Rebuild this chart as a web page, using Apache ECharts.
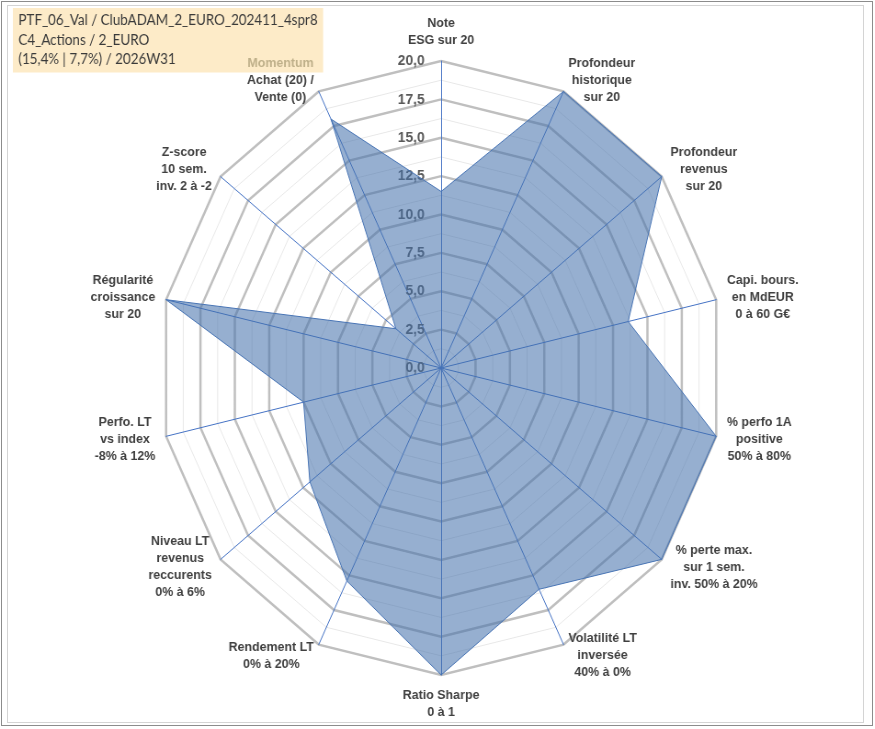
<!DOCTYPE html>
<html>
<head>
<meta charset="utf-8">
<script src="https://cdn.jsdelivr.net/npm/echarts@6/dist/echarts.min.js"></script>
<style>
  html, body { margin: 0; padding: 0; background: #fff; }
  #frame { position: absolute; left: 0; top: 0; width: 875px; height: 729px; overflow: hidden; background: #fff; }
  #outer { position: absolute; left: 1px; top: 1px; width: 872px; height: 725px; border: 1px solid #8c8c8c; box-sizing: border-box; }
  #inner { position: absolute; left: 7px; top: 5px; width: 857px; height: 718px; border: 1px solid #d4d4d4; box-sizing: border-box; }
  #chart { position: absolute; left: 0; top: 0; width: 952px; height: 729px; transform: scaleX(0.919); transform-origin: 0 0; }
</style>
</head>
<body>
<div id="frame">
  <div id="outer"></div>
  <div id="inner"></div>
  <div id="chart"></div>
</div>
<script>
// ---- data (clockwise from top, as in the reference) ----
const titleLines = [
  'PTF_06_Val / ClubADAM_2_EURO_202411_4spr8',
  'C4_Actions / 2_EURO',
  '(15,4% | 7,7%) / 2026W31'
];
const categories = [
  'Note\nESG sur 20',
  'Profondeur\nhistorique\nsur 20',
  'Profondeur\nrevenus\nsur 20',
  'Capi. bours.\nen MdEUR\n0 à 60 G€',
  '% perfo 1A\npositive\n50% à 80%',
  '% perte max.\nsur 1 sem.\ninv. 50% à 20%',
  'Volatilité LT\ninversée\n40% à 0%',
  'Ratio Sharpe\n0 à 1',
  'Rendement LT\n0% à 20%',
  'Niveau LT\nrevenus\nreccurents\n0% à 6%',
  'Perfo. LT\nvs index\n-8% à 12%',
  'Régularité\ncroissance\nsur 20',
  'Z-score\n10 sem.\ninv. 2 à -2',
  'Momentum\nAchat (20) /\nVente (0)'
];
const highlightedFirstLine = 'Momentum';
const values = [11.5, 20, 20, 13.6, 20, 20, 16, 20, 15.4, 11.9, 10, 20, 4.1, 18];
const axisMin = 0;
const axisMax = 20;
const majorStep = 2.5;

// ECharts places radar indicators counter-clockwise: reorder to get clockwise layout
const n = categories.length;
const order = [0];
for (let i = n - 1; i >= 1; i--) order.push(i);

const majorSplits = (axisMax - axisMin) / majorStep;

function richName(name) {
  return name.split('\n').map(function (line) {
    return (line === highlightedFirstLine ? '{m|' : '{c|') + line + '}';
  }).join('\n');
}

const baseFont = 'Liberation Sans, Arial, sans-serif';

const indicatorsMinor = order.map(function (i) {
  return { name: '', min: axisMin, max: axisMax };
});
const indicatorsMajor = order.map(function (i, k) {
  return {
    name: categories[i],
    min: axisMin,
    max: axisMax,
    axisLabel: { show: k === 0 }
  };
});

const center = [480, 368];
const radius = 307;

const chart = echarts.init(document.getElementById('chart'), null, { renderer: 'canvas' });
chart.setOption({
  animation: false,
  backgroundColor: 'transparent',
  title: {
    text: titleLines.join('\n'),
    left: 14,
    top: 8,
    z: 0,
    padding: [3, 6, 3, 6],
    backgroundColor: '#FDEBC8',
    textStyle: {
      fontFamily: 'Lato, Carlito, sans-serif',
      fontSize: 14.6,
      fontWeight: 'normal',
      color: '#3a3a3a',
      lineHeight: 19.5
    }
  },
  radar: [
    {
      center: center,
      radius: radius,
      shape: 'polygon',
      splitNumber: majorSplits * 2,
      indicator: indicatorsMinor,
      z: 1,
      axisName: { show: false },
      axisLine: { show: false },
      axisTick: { show: false },
      axisLabel: { show: false },
      splitArea: { show: false },
      splitLine: { lineStyle: { color: '#E8E8E8', width: 1 } }
    },
    {
      center: center,
      radius: radius,
      shape: 'polygon',
      splitNumber: majorSplits,
      indicator: indicatorsMajor,
      z: 2,
      nameGap: 12,
      axisName: {
        formatter: function (name) { return richName(name); },
        fontFamily: baseFont,
        fontSize: 13.5,
        fontWeight: 'bold',
        color: '#404040',
        lineHeight: 17,
        rich: {
          c: { align: 'center', fontFamily: baseFont, fontSize: 13.5, fontWeight: 'bold', color: '#404040', lineHeight: 17 },
          m: { align: 'center', fontFamily: baseFont, fontSize: 13.5, fontWeight: 'bold', color: '#BFB08A', lineHeight: 17 }
        }
      },
      axisLine: { show: true, lineStyle: { color: '#4472C4', width: 1 } },
      axisTick: { show: false },
      axisLabel: {
        show: false,
        margin: 18,
        fontFamily: baseFont,
        fontSize: 15,
        fontWeight: 'bold',
        color: '#595959',
        showMinLabel: true,
        showMaxLabel: true,
        formatter: function (v) { return Number(v).toFixed(1).replace('.', ','); }
      },
      splitArea: { show: false },
      splitLine: { lineStyle: { color: '#BFBFBF', width: 2.5 } }
    }
  ],
  series: [
    {
      type: 'radar',
      radarIndex: 1,
      z: 3,
      symbol: 'none',
      lineStyle: { color: '#4A76B8', width: 1 },
      areaStyle: { color: 'rgba(68,112,172,0.8)' },
      data: [{ value: order.map(function (i) { return values[i]; }), name: 'PTF' }]
    }
  ]
});
</script>
</body>
</html>
